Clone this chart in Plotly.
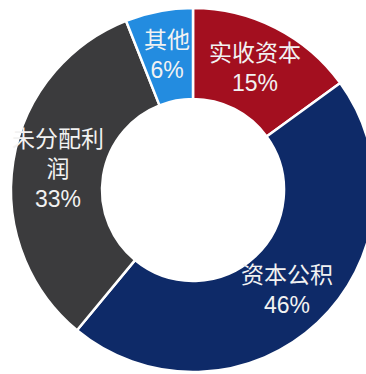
import math
import plotly.graph_objects as go

labels = ["实收资本", "资本公积", "未分配利润", "其他"]
label_text = ["实收资本", "资本公积", "未分配利<br>润", "其他"]
values = [15, 46, 33, 6]
colors = ["#a30f1f", "#0e2a68", "#3b3b3d", "#238ce0"]

W, H = 386, 380
CX, CY, R = 193, 190, 182
HOLE = 0.5

fig = go.Figure(go.Pie(
    labels=labels, values=values, sort=False, direction="clockwise", rotation=0,
    hole=HOLE, textinfo="none", hoverinfo="skip",
    marker=dict(colors=colors, line=dict(color="white", width=2.5)),
    domain=dict(x=[(CX - R) / W, (CX + R) / W], y=[(H - CY - R) / H, (H - CY + R) / H]),
    showlegend=False,
))

total = sum(values)
cum = 0
ann = []
for lab, v in zip(label_text, values):
    mid = (cum + v / 2) / total * 2 * math.pi
    cum += v
    r = 137
    px = CX + r * math.sin(mid)
    py = CY - r * math.cos(mid)
    ann.append(dict(
        x=px / W, y=1 - py / H, xref="paper", yref="paper",
        text=f"{lab}<br>{round(v / total * 100)}%", showarrow=False,
        font=dict(color="#f2f2f2", size=23, family="Liberation Sans, Noto Sans CJK SC"),
        xanchor="center", yanchor="middle", align="center",
    ))

fig.update_layout(
    width=W, height=H, margin=dict(l=0, r=0, t=0, b=0),
    paper_bgcolor="white", plot_bgcolor="white", annotations=ann,
)
fig.write_html("out.html", post_script="document.body.style.margin='0';document.body.style.overflow='hidden';document.documentElement.style.overflow='hidden';")
